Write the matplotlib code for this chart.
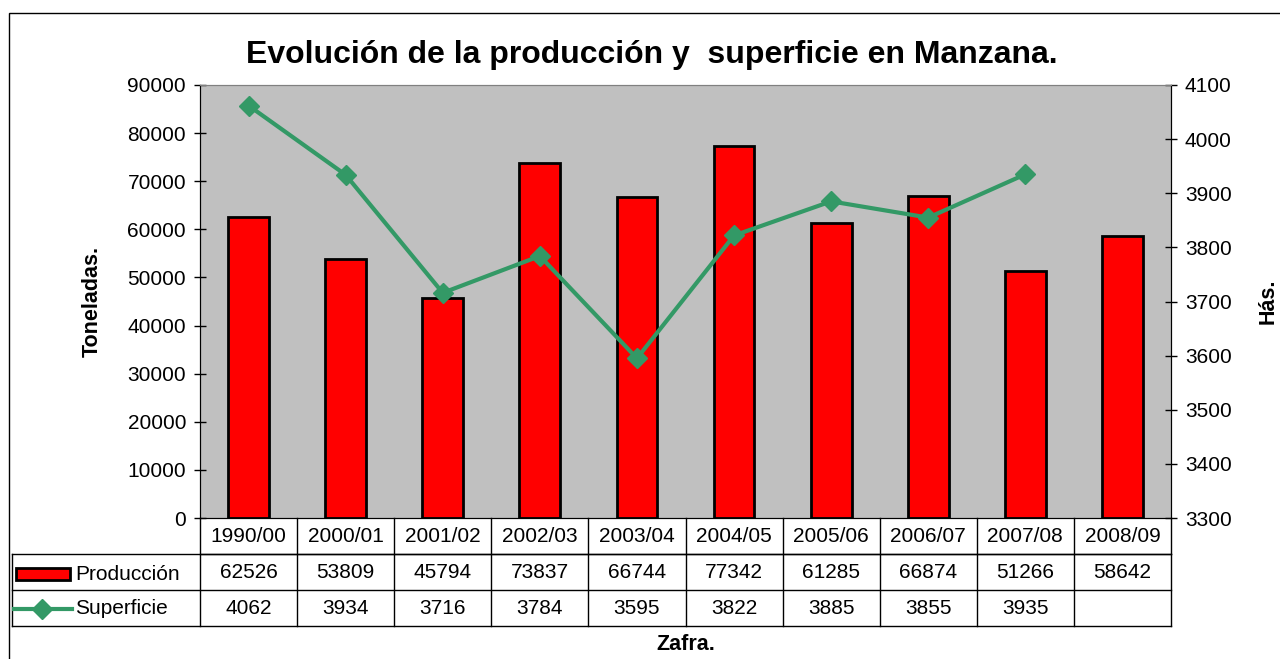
import numpy as np
import matplotlib
matplotlib.use("Agg")
import matplotlib.pyplot as plt
from matplotlib.patches import Rectangle
from matplotlib.lines import Line2D

plt.rcParams["font.family"] = ["Liberation Sans", "DejaVu Sans"]

zafras = ["1990/00", "2000/01", "2001/02", "2002/03", "2003/04",
          "2004/05", "2005/06", "2006/07", "2007/08", "2008/09"]
produccion = [62526, 53809, 45794, 73837, 66744, 77342, 61285, 66874, 51266, 58642]
superficie = [4062, 3934, 3716, 3784, 3595, 3822, 3885, 3855, 3935, None]

bar_color = "#FF0000"
line_color = "#339966"
background = "#C0C0C0"
text_size = 15
label_size = 15.5

fig = plt.figure(figsize=(12.8, 6.59), dpi=100)
fig_w, fig_h = 1280, 659

# plot area in pixels
left_px, right_px, top_px, bottom_px = 200, 1171, 85, 518
ax = fig.add_axes([left_px / fig_w, 1 - bottom_px / fig_h,
                   (right_px - left_px) / fig_w, (bottom_px - top_px) / fig_h])
ax.set_facecolor(background)

positions = np.arange(len(zafras))
ax.bar(positions, produccion, width=0.42, color=bar_color, edgecolor="black", linewidth=2, zorder=2)
ax.set_xlim(-0.5, len(zafras) - 0.5)
ax.set_ylim(0, 90000)
ax.set_yticks(np.arange(0, 90001, 10000))
ax.set_xticks([])
ax.tick_params(axis="y", direction="inout", length=8, width=1, labelsize=text_size, pad=6)

ax2 = ax.twinx()
superficie_values = [np.nan if v is None else v for v in superficie]
ax2.plot(positions, superficie_values, color=line_color, linewidth=3,
         marker="D", markersize=10, zorder=3)
ax2.set_ylim(3300, 4100)
ax2.set_yticks(np.arange(3300, 4101, 100))
ax2.tick_params(axis="y", direction="inout", length=8, width=1, labelsize=text_size, pad=6)

for a in (ax, ax2):
    a.spines["top"].set_color("#808080")
    a.spines["left"].set_color("black")
    a.spines["right"].set_color("black")
    a.spines["bottom"].set_color("black")

# title and axis labels
fig.text(652 / fig_w, 1 - 55 / fig_h, "Evolución de la producción y  superficie en Manzana.",
         ha="center", va="center", fontsize=23, fontweight="bold")
fig.text(92 / fig_w, 1 - 301 / fig_h, "Toneladas.", rotation=90, ha="center", va="center",
         fontsize=label_size, fontweight="bold")
fig.text(1268 / fig_w, 1 - 301 / fig_h, "Hás.", rotation=90, ha="center", va="center",
         fontsize=label_size, fontweight="bold")
fig.text(686 / fig_w, 1 - 645 / fig_h, "Zafra.", ha="center", va="center",
         fontsize=label_size, fontweight="bold")

# data table under the plot
row_h = 36 / (bottom_px - top_px)
label_left = (12 - left_px) / (right_px - left_px)
trans = ax.get_xaxis_transform()
table_kw = dict(color="black", linewidth=1, clip_on=False)

# horizontal lines
ax.plot([-0.5, len(zafras) - 0.5], [-row_h, -row_h], transform=trans, **table_kw)
for k in (1, 2, 3):
    ax.plot([label_left, 1], [-k * row_h, -k * row_h], transform=ax.transAxes, **table_kw)
# vertical lines
for i in range(len(zafras) + 1):
    ax.plot([i - 0.5, i - 0.5], [0, -3 * row_h], transform=trans, **table_kw)
ax.plot([label_left, label_left], [-row_h, -3 * row_h], transform=ax.transAxes, **table_kw)

for i, name in enumerate(zafras):
    ax.text(i, -0.5 * row_h, name, transform=trans, ha="center", va="center", fontsize=text_size)
    ax.text(i, -1.5 * row_h, str(produccion[i]), transform=trans, ha="center", va="center",
            fontsize=text_size)
    if superficie[i] is not None:
        ax.text(i, -2.5 * row_h, str(superficie[i]), transform=trans, ha="center", va="center",
                fontsize=text_size)

# legend keys inside the row labels
key_y1 = 1 - 574 / fig_h
key_y2 = 1 - 609 / fig_h
fig.add_artist(Rectangle((16 / fig_w, key_y1 - 6 / fig_h), 54 / fig_w, 12 / fig_h,
                         facecolor=bar_color, edgecolor="black", linewidth=2,
                         transform=fig.transFigure))
fig.add_artist(Line2D([14 / fig_w, 72 / fig_w], [key_y2, key_y2], color=line_color,
                      linewidth=3, transform=fig.transFigure))
fig.add_artist(Line2D([42 / fig_w], [key_y2], color=line_color, marker="D", markersize=10,
                      transform=fig.transFigure))
fig.text(75 / fig_w, key_y1, "Producción", ha="left", va="center", fontsize=text_size)
fig.text(75 / fig_w, key_y2, "Superficie", ha="left", va="center", fontsize=text_size)

# outer chart border
fig.add_artist(Rectangle((9 / fig_w, -0.05), 1.1, 1 - 13 / fig_h + 0.05, fill=False,
                         edgecolor="black", linewidth=1, transform=fig.transFigure))

fig.savefig("out.png", dpi=100)
